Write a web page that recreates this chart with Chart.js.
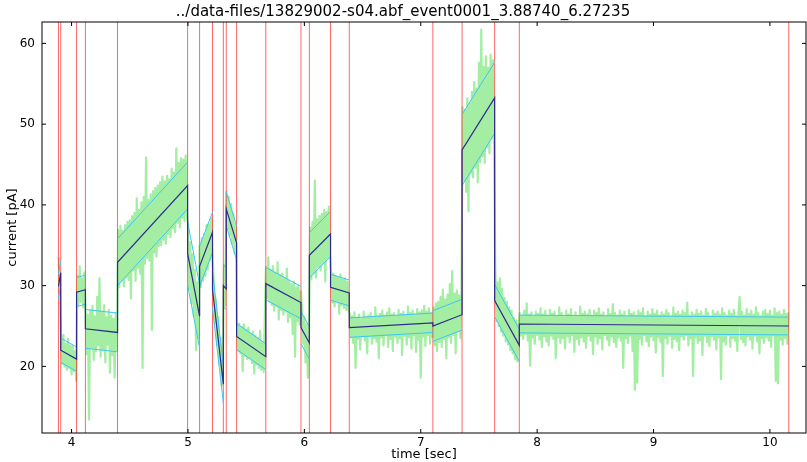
<!DOCTYPE html>
<html>
<head>
    <title>event fit</title>
    <script src="https://cdn.jsdelivr.net/npm/chart.js@4"></script>
    <style>
        body { margin: 0; background: #fff; }
    </style>
</head>
<body>
    <canvas id="myChart" width="807" height="462"></canvas>

    <script>
        var chartTitle = '../data-files/13829002-s04.abf_event0001_3.88740_6.27235';
        var xTicks = [4, 5, 6, 7, 8, 9, 10];
        var yTicks = [20, 30, 40, 50, 60];

        // segment boundaries (red lines), in sec
        var breaks = [3.8874, 3.907, 4.043, 4.119, 4.395, 4.997, 5.100, 5.211, 5.304, 5.329, 5.418,
                      5.669, 5.971, 6.043, 6.225, 6.386, 7.104, 7.355, 7.635, 7.847, 10.162];
        // linear fit per segment: value at start, value at end, std
        var fitStart = [29.9, 22.0, 29.2, 24.65, 32.9, 34.0, 32.4, 29.5, 30.0, 39.5, 23.7, 30.25, 24.8, 33.75, 29.8, 24.8, 25.0, 46.8, 28.15, 25.25];
        var fitEnd   = [31.6, 20.9, 29.5, 24.2, 42.4, 26.2, 36.6, 17.8, 29.6, 35.3, 21.2, 27.9, 22.9, 36.4, 29.1, 25.4, 26.4, 53.25, 22.6, 25.0];
        var fitStd   = [1.5, 1.5, 1.8, 2.4, 2.9, 3.9, 2.5, 2.3, 2.6, 2.1, 1.6, 2.0, 2.0, 2.8, 1.6, 1.2, 1.9, 4.4, 2.0, 1.1];

        // raw current trace, one sample every 0.01 s from 3.89 s
        var signalStart = 3.89;
        var signalStep = 0.01;
        var signal = [
            33.5, 28.6,
            23.6, 20.3, 23.9, 20.0, 22.8, 19.6, 23.4, 19.8, 22.6, 19.0, 22.5, 19.4, 21.9, 18.2,
            31.2, 27.6, 32.4, 28.0, 30.9, 27.3, 31.6,
            27.1, 21.5, 26.4, 13.4, 26.9, 22.3, 27.5, 20.8, 26.2, 21.9, 28.6, 22.6, 30.9, 21.2,
            26.8, 22.1, 27.6, 20.5, 26.1, 22.7, 27.0, 19.2, 26.3, 21.4, 25.9, 18.6, 26.6, 22.0,
            36.9, 29.8, 37.4, 30.6, 36.8, 29.9, 37.5, 31.0, 37.9, 30.7,
            38.1, 28.4, 38.6, 31.9, 39.0, 30.6, 40.8, 32.2, 39.4, 31.5,
            40.3, 19.8, 41.0, 32.7, 45.9, 33.4, 40.6, 33.1, 41.3, 24.5,
            41.7, 34.1, 42.1, 33.6, 42.4, 34.9, 42.8, 35.0, 43.5, 35.7,
            42.9, 35.2, 43.6, 36.4, 43.2, 36.0, 44.5, 37.1, 44.0, 36.6,
            47.0, 37.8, 45.2, 37.2, 45.8, 38.4, 45.6, 38.0, 46.1, 38.9,
            37.6, 29.5, 35.4, 27.8, 33.9, 26.2, 32.0, 22.0, 30.4, 23.5,
            35.0, 29.8, 35.9, 30.6, 36.4, 31.2, 37.5, 32.0, 37.6, 33.1, 38.4, 33.9,
            31.0, 25.4, 28.3, 22.6, 26.1, 20.2, 23.5, 17.6, 20.8,
            32.6, 27.5,
            41.6, 37.0, 41.0, 36.2, 40.1, 35.2, 38.9, 34.0, 37.6,
            25.6, 21.9, 25.3, 21.6, 24.9, 19.4, 25.2, 21.3, 24.6, 20.9, 24.8, 21.0, 24.1,
            20.4, 24.3, 19.1, 23.8, 20.2, 23.5, 19.8, 24.4, 19.6, 23.0, 19.3, 26.0,
            32.3, 28.4, 33.5, 28.0, 32.0, 27.6, 32.4, 26.9, 31.6, 27.5, 32.9, 25.8, 31.3, 27.0, 31.5, 26.4,
            30.9, 26.8, 32.1, 25.5, 30.6, 26.1, 30.2, 24.0, 30.5, 21.2, 29.8, 25.6, 30.0, 25.2, 29.3,
            27.0, 22.8, 26.1, 20.5, 25.2, 18.6, 24.0,
            37.2, 30.8, 37.9, 31.5, 43.0, 31.0, 38.2, 32.3, 38.6, 31.9, 38.9, 32.8, 39.4, 30.5, 39.1, 33.4, 39.8, 33.6,
            31.8, 27.9, 31.5, 27.4, 31.2, 28.1, 31.0, 26.5, 31.4, 27.6, 30.8, 27.2, 30.9, 27.0, 30.5, 26.9,
            26.5, 23.6, 26.2, 22.9, 26.7, 19.8, 26.0, 23.4, 26.4, 22.1, 25.9, 23.8,
            26.8, 23.2, 26.1, 21.6, 26.3, 23.7, 26.6, 22.8, 26.0, 23.5, 27.3, 23.1,
            26.2, 21.0, 26.5, 23.6, 26.9, 22.6, 26.3, 23.9, 26.7, 22.4, 27.2, 23.4,
            26.4, 21.9, 26.6, 23.7, 26.2, 22.9, 27.0, 23.5, 26.5, 21.4, 26.8, 23.8,
            26.3, 22.7, 27.4, 23.6, 26.6, 22.2, 26.9, 23.9, 26.4, 21.8, 27.1, 23.3,
            26.7, 18.6, 26.9, 23.7, 27.5, 22.5, 26.8, 23.9, 27.2, 22.8, 26.6, 23.6,
            27.3, 22.6, 27.8, 21.9, 28.0, 23.0, 28.6, 22.4, 29.5, 23.4, 28.3, 21.0, 28.9,
            23.6, 30.2, 22.9, 31.8, 23.9, 29.0, 21.6, 29.4, 24.3, 28.8, 23.5, 29.1,
            52.1, 43.0, 51.8, 41.6, 53.2, 39.2, 52.6, 43.9, 54.0, 43.4, 55.2, 44.6, 54.4, 42.8,
            57.6, 45.3, 61.7, 46.0, 57.1, 45.2, 58.4, 47.1, 57.0, 46.4, 58.6, 48.2, 57.9, 47.5,
            32.6, 25.6, 30.4, 25.0, 30.9, 24.3, 29.6, 23.8, 28.5, 23.1, 28.0,
            22.7, 27.3, 22.0, 26.9, 21.6, 26.0, 20.9, 25.7, 20.6, 24.9,
            26.6, 23.8, 26.3, 23.4, 26.9, 24.0, 27.8, 23.2, 26.4, 20.1,
            26.7, 23.6, 26.2, 22.8, 26.8, 23.9, 26.5, 23.3, 27.2, 22.4,
            26.4, 23.7, 26.9, 23.1, 26.3, 22.6, 27.0, 23.8, 26.5, 23.4,
            26.8, 21.0, 26.2, 23.6, 27.3, 22.9, 26.6, 23.5, 26.1, 22.2,
            26.9, 23.7, 26.4, 23.0, 27.1, 23.9, 26.3, 21.8, 26.7, 23.4,
            26.2, 22.7, 27.4, 23.6, 26.5, 23.1, 26.8, 22.3, 26.4, 23.8,
            27.0, 23.2, 26.3, 21.5, 26.9, 23.7, 26.6, 22.8, 27.2, 23.5,
            26.4, 22.1, 26.7, 23.9, 26.2, 23.3, 27.1, 22.6, 26.5, 23.7,
            27.7, 23.0, 26.6, 22.4, 26.3, 23.6, 26.9, 23.2, 26.4, 19.8,
            26.8, 23.5, 26.1, 22.9, 27.0, 23.8, 26.5, 21.9, 26.7, 17.1,
            26.3, 18.0, 26.9, 23.4, 26.6, 22.7, 27.2, 23.9, 26.2, 23.1,
            26.8, 22.5, 26.4, 23.7, 27.1, 23.2, 26.5, 21.7, 26.9, 23.6,
            26.3, 23.0, 26.7, 18.8, 26.4, 23.5, 27.0, 22.8, 26.6, 23.8,
            26.2, 22.3, 27.3, 23.4, 26.5, 23.1, 26.8, 22.0, 26.4, 23.7,
            26.9, 23.3, 26.6, 23.9, 27.9, 22.6, 26.3, 23.5, 26.7, 18.8,
            26.4, 23.6, 27.0, 22.9, 26.5, 23.2, 26.8, 21.4, 26.3, 23.8,
            27.1, 23.0, 26.6, 22.5, 26.2, 23.7, 26.9, 23.3, 26.5, 22.1,
            26.8, 23.6, 26.4, 18.4, 27.2, 23.1, 26.6, 22.7, 26.3, 23.9,
            26.9, 22.4, 26.5, 23.5, 27.0, 23.2, 26.2, 21.9, 26.7, 28.6,
            23.4, 26.8, 23.0, 26.3, 22.6, 27.1, 23.7, 26.5, 23.3, 26.9,
            22.2, 26.4, 23.8, 27.3, 23.1, 26.6, 21.6, 26.2, 23.5, 26.8,
            22.9, 27.0, 23.6, 26.5, 23.2, 26.9, 22.4, 26.3, 23.9, 27.2,
            18.2, 26.6, 17.9, 26.8, 23.3, 26.4, 22.7, 27.0, 23.5, 26.5,
            22.8, 26.7
        ];

        var yMin = 11.75, yMax = 62.65;

        var signalPts = signal.map(function (v, i) {
            return { x: signalStart + i * signalStep, y: v };
        });

        var redPts = [];
        breaks.forEach(function (b) {
            redPts.push({ x: b, y: yMin }, { x: b, y: yMax }, { x: b, y: null });
        });

        var fitPts = [], upperPts = [], lowerPts = [];
        for (var i = 0; i < fitStart.length; i++) {
            fitPts.push({ x: breaks[i], y: fitStart[i] }, { x: breaks[i + 1], y: fitEnd[i] });
            upperPts.push({ x: breaks[i], y: fitStart[i] + fitStd[i] }, { x: breaks[i + 1], y: fitEnd[i] + fitStd[i] }, { x: breaks[i + 1], y: null });
            lowerPts.push({ x: breaks[i], y: fitStart[i] - fitStd[i] }, { x: breaks[i + 1], y: fitEnd[i] - fitStd[i] }, { x: breaks[i + 1], y: null });
        }

        // matplotlib-like frame with inward ticks
        var framePlugin = {
            id: 'frame',
            afterDatasetsDraw: function (chart) {
                var c = chart.ctx, a = chart.chartArea;
                var xs = chart.scales.x, ys = chart.scales.y;
                c.save();
                c.strokeStyle = '#000';
                c.lineWidth = 1;
                c.strokeRect(a.left, a.top, a.right - a.left, a.bottom - a.top);
                c.beginPath();
                xTicks.forEach(function (v) {
                    var px = xs.getPixelForValue(v);
                    c.moveTo(px, a.bottom); c.lineTo(px, a.bottom - 4);
                    c.moveTo(px, a.top); c.lineTo(px, a.top + 4);
                });
                yTicks.forEach(function (v) {
                    var py = ys.getPixelForValue(v);
                    c.moveTo(a.left, py); c.lineTo(a.left + 4, py);
                    c.moveTo(a.right, py); c.lineTo(a.right - 4, py);
                });
                c.stroke();
                c.restore();
            }
        };

        Chart.defaults.font.family = "'DejaVu Sans', sans-serif";
        Chart.defaults.color = '#000';

        var ctx = document.getElementById('myChart').getContext('2d');
        var myChart = new Chart(ctx, {
            type: 'line',
            data: {
                datasets: [
                    { label: 'fit', data: fitPts, borderColor: '#2f2a8c', borderWidth: 1.2, order: 1 },
                    { label: 'fit+std', data: upperPts, borderColor: '#3cc6f0', borderWidth: 1, order: 2 },
                    { label: 'fit-std', data: lowerPts, borderColor: '#3cc6f0', borderWidth: 1, order: 2 },
                    { label: 'breaks', data: redPts, borderColor: 'rgba(255,0,0,0.6)', borderWidth: 1, order: 3 },
                    { label: 'signal', data: signalPts, borderColor: 'rgba(140,234,140,0.8)', borderWidth: 2.2,
                      borderJoinStyle: 'round', order: 4 }
                ]
            },
            options: {
                responsive: false,
                animation: false,
                spanGaps: false,
                layout: { padding: { left: 0, right: 1, top: 0, bottom: 0 } },
                elements: { point: { radius: 0 }, line: { tension: 0 } },
                plugins: {
                    legend: { display: false },
                    tooltip: { enabled: false },
                    title: {
                        display: true,
                        text: chartTitle,
                        font: { size: 15, weight: 'normal' },
                        color: '#000',
                        padding: { top: 3, bottom: 1 }
                    }
                },
                scales: {
                    x: {
                        type: 'linear',
                        min: 3.746,
                        max: 10.31,
                        grid: { display: false, drawTicks: false },
                        border: { display: false },
                        ticks: { font: { size: 12 }, color: '#000', padding: 3, maxRotation: 0, autoSkip: false },
                        afterBuildTicks: function (s) { s.ticks = xTicks.map(function (v) { return { value: v }; }); },
                        afterFit: function (s) { s.height = 29; },
                        title: { display: true, text: 'time [sec]', font: { size: 13 }, color: '#000', padding: { top: 0, bottom: 0 } }
                    },
                    y: {
                        type: 'linear',
                        min: yMin,
                        max: yMax,
                        grid: { display: false, drawTicks: false },
                        border: { display: false },
                        ticks: { font: { size: 12 }, color: '#000', padding: 7, autoSkip: false },
                        afterBuildTicks: function (s) { s.ticks = yTicks.map(function (v) { return { value: v }; }); },
                        afterFit: function (s) { s.width = 42; },
                        title: { display: true, text: 'current [pA]', font: { size: 13 }, color: '#000', padding: { top: 5, bottom: 0 } }
                    }
                }
            },
            plugins: [framePlugin]
        });
    </script>
</body>
</html>
